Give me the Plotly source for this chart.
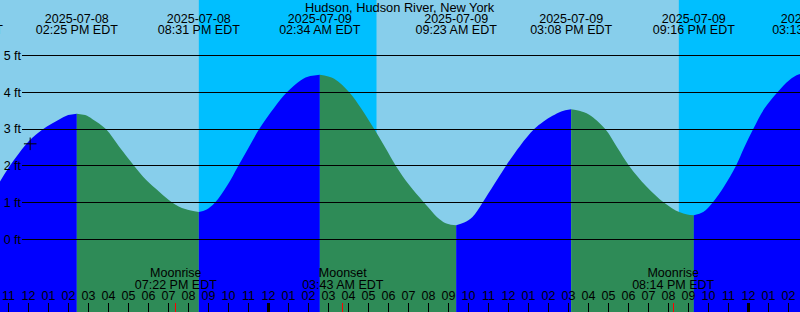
import pandas as pd
import plotly.graph_objects as go

# ---------------- data ----------------
station = "Hudson, Hudson River, New York"
base_day = pd.Timestamp("2025-07-08 00:00")
view_range = ["2025-07-08 10:34:30", "2025-07-10 02:34:30"]

# tide extremes (time, feet)
extreme_times = ["2025-07-08 08:41", "2025-07-08 14:25", "2025-07-08 20:31", "2025-07-09 02:34",
                 "2025-07-09 09:23", "2025-07-09 15:08", "2025-07-09 21:16", "2025-07-10 03:13"]
extreme_feet = [0.42, 3.42, 0.75, 4.48, 0.39, 3.54, 0.66, 4.55]

# tide curve samples between extremes (hours after 2025-07-08 00:00, feet)
curve_hours = [9.535, 10.035, 10.535, 11.035, 11.535, 12.035, 12.70, 13.135, 13.535, 13.985,
               14.835, 15.20, 15.87, 16.535, 17.285, 17.885, 18.535, 19.20, 19.835,
               20.885, 21.32, 21.95, 22.485, 23.01, 23.535, 24.285, 24.92, 25.62, 26.085,
               27.285, 28.035, 28.635, 29.285, 29.835, 30.37, 31.035, 31.785, 32.535, 32.935,
               33.785, 34.2, 34.7, 35.285, 35.87, 36.585, 37.285, 37.735, 38.2, 38.635,
               39.535, 40.035, 40.835, 41.435, 42.035, 42.885, 43.785, 44.535, 44.935,
               45.735, 46.2, 46.785, 47.37, 47.785, 48.235, 48.785, 49.45, 50.035, 50.535]
curve_feet = [0.72, 1.10, 1.54, 1.98, 2.35, 2.68, 2.99, 3.14, 3.26, 3.38,
              3.38, 3.27, 3.0, 2.52, 2.0, 1.615, 1.30, 1.0, 0.826,
              0.81, 1.0, 1.48, 2.0, 2.5, 3.0, 3.58, 4.0, 4.33, 4.44,
              4.37, 4.0, 3.56, 3.0, 2.5, 2.0, 1.48, 1.0, 0.56, 0.43,
              0.46, 0.61, 1.0, 1.5, 2.0, 2.55, 3.0, 3.2, 3.36, 3.48,
              3.50, 3.39, 3.0, 2.5, 2.0, 1.45, 1.0, 0.745, 0.68,
              0.75, 1.0, 1.45, 2.0, 2.5, 3.0, 3.55, 4.0, 4.33, 4.49]

# sun (night intervals) and moon events
night_start = ["2025-07-08 20:31", "2025-07-09 20:31"]
night_end = ["2025-07-09 05:24", "2025-07-10 05:24"]
moon_times = ["2025-07-08 19:22", "2025-07-09 03:43", "2025-07-09 20:14"]
moon_events = ["Moonrise", "Moonset", "Moonrise"]

# "now" marker
now_time = "2025-07-08 12:05"
now_feet = 2.60

# axis values
height_ticks = [0, 1, 2, 3, 4, 5]
height_labels = ["0 ft", "1 ft", "2 ft", "3 ft", "4 ft", "5 ft"]
midnights = ["2025-07-09 00:00", "2025-07-10 00:00"]

# ---------------- styles ----------------
FONT = "Liberation Sans, Arial, sans-serif"
DAY = "#87CEEB"
NIGHT = "#00BFFF"
RISING = "#0000FF"
FALLING = "#2E8B57"
Y_RANGE = [-1.970, 6.508]
FLOOR = -5

fig = go.Figure()

# water fill, one area per half tide (spline edge filled down to a baseline)
ext_t = pd.to_datetime(extreme_times)
ext_h = [(t - base_day) / pd.Timedelta(hours=1) for t in ext_t]
pts = sorted(list(zip(ext_h, extreme_feet)) + list(zip(curve_hours, curve_feet)))
for i in range(len(ext_h) - 1):
    seg = [p for p in pts if ext_h[i] <= p[0] <= ext_h[i + 1]]
    xs = [base_day + pd.Timedelta(hours=p[0]) for p in seg]
    ys = [p[1] for p in seg]
    colr = RISING if extreme_feet[i + 1] > extreme_feet[i] else FALLING
    fig.add_trace(go.Scatter(x=xs, y=[FLOOR] * len(xs), mode="lines",
                             line=dict(width=0, color=colr), hoverinfo="skip",
                             xaxis="x", yaxis="y"))
    fig.add_trace(go.Scatter(
        x=xs, y=ys, mode="lines", line=dict(width=0, color=colr, shape="spline", smoothing=1),
        fill="tonexty", fillcolor=colr, hoverinfo="skip", xaxis="x", yaxis="y"))

# now marker
fig.add_trace(go.Scatter(x=[now_time], y=[now_feet], mode="markers",
                         marker=dict(symbol="cross-thin", size=9, line=dict(width=1, color="black")),
                         hoverinfo="skip", xaxis="x", yaxis="y"))

# event labels (top) on pixel-like overlay axis y3
ev_dates = [t.strftime("%Y-%m-%d") for t in ext_t]
ev_clock = [t.strftime("%I:%M %p EDT") for t in ext_t]
tf = dict(family=FONT, size=12.5, color="black")
fig.add_trace(go.Scatter(x=ext_t, y=[19.5] * len(ext_t), text=ev_dates, mode="text",
                         textposition="middle center", textfont=tf,
                         hoverinfo="skip", xaxis="x", yaxis="y3"))
fig.add_trace(go.Scatter(x=ext_t, y=[31.3] * len(ext_t), text=ev_clock, mode="text",
                         textposition="middle center", textfont=tf,
                         hoverinfo="skip", xaxis="x", yaxis="y3"))

# moon labels (bottom)
moon_t = pd.to_datetime(moon_times)
fig.add_trace(go.Scatter(x=moon_t, y=[273.8] * len(moon_t), text=moon_events, mode="text",
                         textposition="middle center", textfont=tf,
                         hoverinfo="skip", xaxis="x", yaxis="y3"))
fig.add_trace(go.Scatter(x=moon_t, y=[285.5] * len(moon_t),
                         text=[t.strftime("%I:%M %p EDT") for t in moon_t], mode="text",
                         textposition="middle center", textfont=tf,
                         hoverinfo="skip", xaxis="x", yaxis="y3"))

# empty traces to instantiate helper axes
fig.add_trace(go.Scatter(x=[], y=[], xaxis="x3", yaxis="y", hoverinfo="skip"))
fig.add_trace(go.Scatter(x=[], y=[], xaxis="x4", yaxis="y", hoverinfo="skip"))
fig.add_trace(go.Scatter(x=[], y=[], xaxis="x2", yaxis="y2", hoverinfo="skip"))

# night shading
for s, e in zip(night_start, night_end):
    fig.add_shape(type="rect", xref="x", yref="paper", x0=s, x1=e, y0=0, y1=1,
                  fillcolor=NIGHT, line=dict(width=0), layer="below")

fig.add_annotation(text=station, xref="paper", x=0.5, yref="y3", y=7.5,
                   xanchor="center", yanchor="middle", showarrow=False,
                   font=dict(family=FONT, size=12.8, color="black"))

fig.update_layout(
    width=800, height=312, autosize=False,
    margin=dict(l=0, r=0, t=0, b=0, pad=0),
    paper_bgcolor=DAY, plot_bgcolor="rgba(0,0,0,0)",
    showlegend=False, hovermode=False,
    xaxis=dict(type="date", range=view_range, domain=[0, 1], anchor="y",
               tickformat="%I", dtick=3600000, tick0="2025-07-08 00:00",
               ticks="inside", ticklen=9, tickwidth=1, tickcolor="black",
               ticklabelposition="inside", showgrid=False, zeroline=False, showline=False,
               tickfont=tf),
    xaxis3=dict(type="date", range=view_range, overlaying="x", anchor="y",
                tickmode="array", tickvals=midnights, ticks="inside", ticklen=9, tickwidth=3,
                tickcolor="black", showticklabels=False, showgrid=False, zeroline=False),
    xaxis4=dict(type="date", range=view_range, overlaying="x", anchor="y",
                tickmode="array", tickvals=moon_times, ticks="inside", ticklen=9, tickwidth=1,
                tickcolor="#FF0000", showticklabels=False, showgrid=False, zeroline=False),
    yaxis=dict(range=Y_RANGE, domain=[0, 1], anchor="x", visible=False),
    yaxis3=dict(range=[312, 0], overlaying="y", anchor="x", visible=False),
    xaxis2=dict(domain=[22 / 800, 1], anchor="y2", visible=False, range=[0, 1]),
    yaxis2=dict(range=Y_RANGE, domain=[0, 1], anchor="x2",
                tickmode="array", tickvals=height_ticks, ticktext=height_labels,
                showgrid=True, gridcolor="black", gridwidth=1, zeroline=False,
                showline=False, ticks="", tickfont=tf),
)

fig.write_html("out.html")
